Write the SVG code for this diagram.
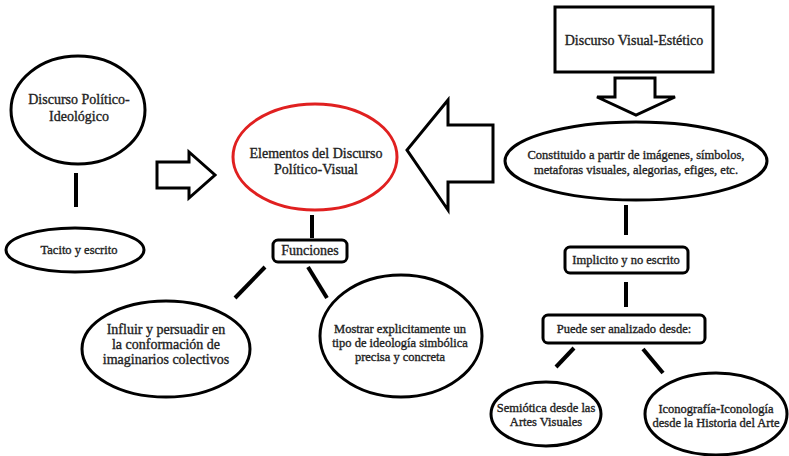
<svg xmlns="http://www.w3.org/2000/svg" width="789" height="456" viewBox="0 0 789 456">
<style>
.s{fill:#fff;stroke:#000;stroke-width:3}
.r{fill:#fff;stroke:#e02020;stroke-width:3}
.c{stroke:#000;stroke-width:4;stroke-linecap:butt;fill:none}
text{font-family:"Liberation Serif","DejaVu Serif",serif;fill:#222;stroke:#222;stroke-width:0.35;text-anchor:middle}
.t12{font-size:12.5px}
.t13{font-size:14px}
</style>
<rect width="789" height="456" fill="#fff"/>
<g id="connectors">
<line class="c" x1="76" y1="173" x2="76" y2="207"/>
<line class="c" x1="312" y1="215" x2="312" y2="238"/>
<line class="c" x1="265" y1="267" x2="235" y2="298"/>
<line class="c" x1="308" y1="267" x2="327" y2="298"/>
<line class="c" x1="626" y1="205" x2="626" y2="235"/>
<line class="c" x1="626" y1="282" x2="626" y2="307"/>
<line class="c" x1="574" y1="348" x2="556" y2="367"/>
<line class="c" x1="643" y1="349" x2="663" y2="373"/>
<polygon id="arrow-right" class="s" points="157,162 189,162 189,152 215,175 189,198 189,188 157,188"/>
<polygon id="arrow-left" class="s" points="493,125 448,125 448,100 407,150 448,210 448,182 493,182"/>
<polygon id="arrow-down" class="s" points="615,78 655,78 655,97 675,97 636,115 597,97 615,97"/>
</g>
<g id="n-politico">
<ellipse class="s" cx="78" cy="110" rx="67" ry="54"/>
<text class="t13" x="79" y="104">Discurso Político-</text>
<text class="t13" x="79" y="121">Ideológico</text>
</g>
<g id="n-tacito">
<ellipse class="s" cx="75" cy="250" rx="69" ry="22"/>
<text class="t12" x="79" y="254">Tacito y escrito</text>
</g>
<g id="n-elementos">
<ellipse class="r" cx="315" cy="157" rx="82" ry="53"/>
<text class="t13" x="316" y="158">Elementos del Discurso</text>
<text class="t13" x="316" y="174">Político-Visual</text>
</g>
<g id="n-funciones">
<rect class="s" x="273" y="240" width="74" height="22" rx="5"/>
<text class="t13" x="310" y="255">Funciones</text>
</g>
<g id="n-influir">
<ellipse class="s" cx="166" cy="349" rx="84" ry="48"/>
<text class="t13" x="166" y="334">Influir y persuadir en</text>
<text class="t13" x="166" y="349">la conformación de</text>
<text class="t13" x="166" y="364">imaginarios colectivos</text>
</g>
<g id="n-mostrar">
<ellipse class="s" cx="401" cy="336" rx="81" ry="61"/>
<text class="t12" x="400" y="333">Mostrar explicitamente un</text>
<text class="t12" x="400" y="347">tipo de ideología simbólica</text>
<text class="t12" x="400" y="361">precisa y concreta</text>
</g>
<g id="n-visual">
<rect class="s" x="555" y="7" width="158" height="65"/>
<text class="t13" x="634" y="45">Discurso Visual-Estético</text>
</g>
<g id="n-constituido">
<ellipse class="s" cx="636" cy="161" rx="131" ry="39"/>
<text class="t12" x="636" y="159">Constituido a partir de imágenes, símbolos,</text>
<text class="t12" x="636" y="174">metaforas visuales, alegorias, efiges, etc.</text>
</g>
<g id="n-implicito">
<rect class="s" x="565" y="247" width="123" height="26" rx="5"/>
<text class="t12" x="626" y="264">Implicito y no escrito</text>
</g>
<g id="n-puede">
<rect class="s" x="543" y="315" width="162" height="28" rx="5"/>
<text class="t12" x="624" y="333">Puede ser analizado desde:</text>
</g>
<g id="n-semiotica">
<ellipse class="s" cx="546" cy="414" rx="55" ry="32"/>
<text class="t12" x="546" y="412">Semiótica desde las</text>
<text class="t12" x="546" y="426">Artes Visuales</text>
</g>
<g id="n-iconografia">
<ellipse class="s" cx="716" cy="414" rx="71" ry="41"/>
<text class="t12" x="716" y="413">Iconografía-Iconología</text>
<text class="t12" x="716" y="427">desde la Historia del Arte</text>
</g>
</svg>
